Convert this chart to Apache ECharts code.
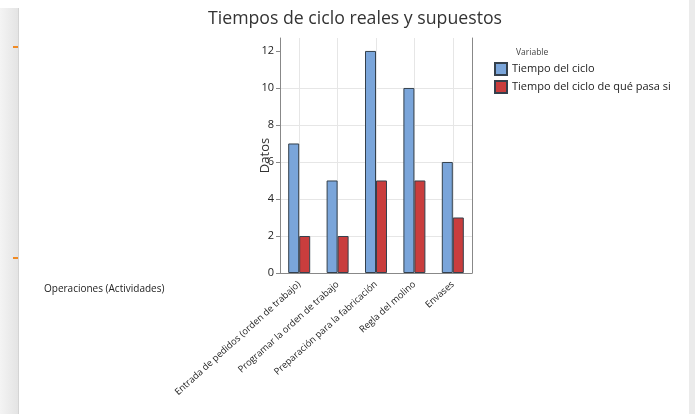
<!DOCTYPE html>
<html><head><meta charset="utf-8">
<script src="https://cdn.jsdelivr.net/npm/echarts@6/dist/echarts.min.js"></script>
<style>html,body{margin:0;padding:0;background:#fff;}#c{width:695px;height:414px;}</style>
</head><body><div id="c"></div>
<script>
const categories = ["Entrada de pedidos (orden de trabajo)", "Programar la orden de trabajo", "Preparación para la fabricación", "Regla del molino", "Envases"];
const seriesNames = ["Tiempo del ciclo", "Tiempo del ciclo de qué pasa si"];
const cicloValues = [7, 5, 12, 10, 6];
const quePasaValues = [2, 2, 5, 5, 3];
const yTicks = [0, 2, 4, 6, 8, 10, 12];

const chart = echarts.init(document.getElementById('c'));
const font = 'Open Sans';
chart.setOption({
  animation: false,
  backgroundColor: '#ffffff',
  title: [
    { text: 'Tiempos de ciclo reales y supuestos', left: 350, top: 5, textAlign: 'center',
      textStyle: { fontFamily: font, fontSize: 17.7, fontWeight: 'normal', color: '#333' } },
    { text: 'Variable', left: 511, top: 43,
      textStyle: { fontFamily: font, fontSize: 8.5, fontWeight: 'normal', color: '#444' } },
    { text: 'Operaciones (Actividades)', left: 39, top: 279,
      textStyle: { fontFamily: font, fontSize: 10, fontWeight: 'normal', color: '#222' } }
  ],
  legend: {
    data: seriesNames, orient: 'vertical', left: 489, top: 57,
    itemWidth: 12, itemHeight: 12, itemGap: 4, icon: 'rect',
    textStyle: { fontFamily: font, fontSize: 11, color: '#222' }
  },
  grid: { left: 280, right: 223, top: 38, bottom: 141 },
  xAxis: {
    type: 'category', data: categories,
    axisLine: { lineStyle: { color: '#888' } },
    axisTick: { alignWithLabel: true, length: 4, lineStyle: { color: '#888' } },
    splitLine: { show: true, alignWithLabel: true, lineStyle: { color: '#e6e6e6' } },
    axisLabel: { interval: 0, rotate: 42, margin: 10, fontFamily: font, fontSize: 9.3, color: '#222' }
  },
  yAxis: [
    { type: 'value', min: 0, max: 12.7, name: 'Datos', nameLocation: 'middle', nameGap: 8,
      nameMoveOverlap: false,
      nameTextStyle: { fontFamily: font, fontSize: 13, color: '#333' },
      axisLine: { show: true, lineStyle: { color: '#888' } },
      axisTick: { show: true, length: 4, customValues: yTicks, lineStyle: { color: '#888' } },
      axisLabel: { customValues: yTicks, fontFamily: font, fontSize: 11, color: '#222', margin: 6 },
      splitLine: { show: true, showMaxLine: false, lineStyle: { color: '#e6e6e6' } },
      interval: 2 },
    { type: 'value', min: 0, max: 12.7, position: 'right',
      axisLine: { show: true, lineStyle: { color: '#888' } },
      axisTick: { show: false }, axisLabel: { show: false }, splitLine: { show: false } }
  ],
  series: [
    { name: seriesNames[0], type: 'bar', data: cicloValues, barWidth: 11, barGap: '0%',
      itemStyle: { color: '#7aa5da', borderColor: '#34404c', borderWidth: 1 } },
    { name: seriesNames[1], type: 'bar', data: quePasaValues, barWidth: 11, barGap: '0%',
      itemStyle: { color: '#c93d3d', borderColor: '#34404c', borderWidth: 1 } }
  ],
  graphic: [
    { type: 'rect', left: 0, top: 8, shape: { width: 18, height: 406 }, silent: true,
      style: { fill: new echarts.graphic.LinearGradient(0, 0, 1, 0, [
        { offset: 0, color: '#f4f4f4' }, { offset: 1, color: '#e4e4e4' }]) } },
    { type: 'line', shape: { x1: 18.5, y1: 8, x2: 18.5, y2: 414 }, silent: true,
      style: { stroke: '#d4d4d4', lineWidth: 1 } },
    { type: 'rect', left: 13, top: 46, shape: { width: 5, height: 2 }, silent: true, style: { fill: '#f08a24' } },
    { type: 'rect', left: 13, top: 257, shape: { width: 5, height: 2 }, silent: true, style: { fill: '#f08a24' } },
    { type: 'rect', left: 689, top: 0, shape: { width: 6, height: 414 }, silent: true, style: { fill: '#ebebeb' } }
  ]
});
</script>
</body></html>
